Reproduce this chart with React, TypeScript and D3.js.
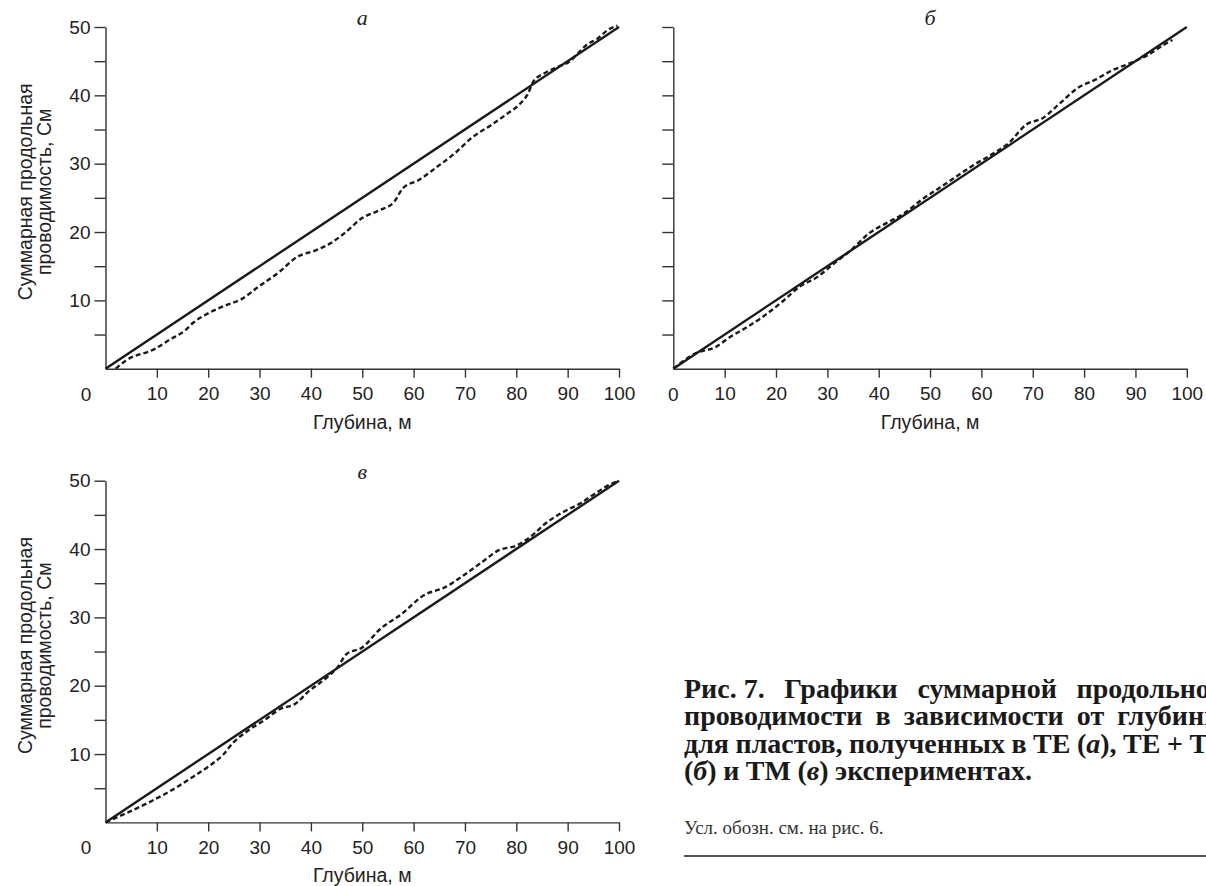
import { useEffect, useRef } from 'react';
import * as d3 from 'd3';

// axes
const DEPTH_DOMAIN: [number, number] = [0, 100];
const COND_DOMAIN: [number, number] = [0, 50];
const X_TICKS = [10, 20, 30, 40, 50, 60, 70, 80, 90, 100];
const Y_TICKS = [5, 10, 15, 20, 25, 30, 35, 40, 45, 50];
const Y_LABELS = [10, 20, 30, 40, 50];

// solid reference line (same in every panel)
const TREND_DEPTH = [0, 100];
const TREND_COND = [0, 50];

// dashed curves
const TE_DEPTH = [2, 4, 9.6, 12.4, 15.5, 17.2, 20, 24.2, 26.3, 29.8, 33.9, 37.4, 40.9, 43.7, 46.5, 49.9, 53.4, 56.2, 57.9, 61, 64.5, 68, 71.5, 75, 78.4, 80.5, 82.3, 83.3, 85.4, 88.2, 90.3, 91.7, 93.7, 95.8, 97.9, 99.7];
const TE_COND = [0, 1.2, 2.9, 4.2, 5.6, 6.8, 8.1, 9.5, 10.1, 12, 14.2, 16.4, 17.3, 18.3, 19.8, 22, 23.2, 24.4, 26.4, 27.6, 29.5, 31.5, 33.9, 35.6, 37.4, 38.6, 40.3, 42, 43.2, 44.2, 44.9, 45.9, 47.4, 48.3, 49.6, 50.2];

const TETM_DEPTH = [0, 4.2, 8.3, 11, 14.4, 17.8, 21.2, 24.6, 28, 31.3, 34.7, 38.1, 41.5, 44.9, 48.3, 51.7, 55.1, 58.5, 61.9, 65.3, 68.7, 72, 75.4, 78.8, 82.2, 85.6, 89, 92.4, 95.1, 97.2];
const TETM_COND = [0, 2.2, 3.2, 4.6, 6.1, 7.8, 9.8, 12, 13.4, 15.4, 17.4, 19.8, 21.3, 22.7, 24.7, 26.4, 28.1, 29.8, 31.3, 33, 35.7, 36.7, 38.9, 41.1, 42.3, 43.7, 44.7, 45.9, 47.2, 48.1];

const TM_DEPTH = [0, 3.3, 8.9, 13.1, 17.3, 20.1, 22.9, 24.9, 27.7, 31.2, 34, 36.8, 39.6, 43.1, 45.2, 46.9, 50, 53.5, 57.7, 61.9, 66.1, 70.2, 73.7, 76.5, 80, 82.8, 85.6, 89.1, 92.5, 95.3, 97.4, 99.9];
const TM_COND = [0, 1.1, 3.1, 4.8, 6.8, 8.2, 9.9, 11.7, 13.4, 15.1, 16.6, 17.3, 19.2, 21.2, 22.7, 24.6, 25.6, 28.3, 30.5, 33.2, 34.4, 36.4, 38.3, 39.8, 40.5, 41.8, 43.7, 45.4, 46.7, 48.1, 49.1, 50];

const PANEL_TITLES = ['а', 'б', 'в'];
const X_TITLE = 'Глубина, м';
const Y_TITLE = ['Суммарная продольная', 'проводимость, См'];

type Seg = { t: string; i?: boolean };
const CAPTION: Seg[][][] = [
  [[{ t: 'Рис. 7.' }], [{ t: 'Графики' }], [{ t: 'суммарной' }], [{ t: 'продольной' }]],
  [[{ t: 'проводимости' }], [{ t: 'в' }], [{ t: 'зависимости' }], [{ t: 'от' }], [{ t: 'глубины' }]],
  [[{ t: 'для' }], [{ t: 'пластов,' }], [{ t: 'полученных' }], [{ t: 'в' }], [{ t: 'TE' }], [{ t: '(' }, { t: 'а', i: true }, { t: '),' }], [{ t: 'TE' }], [{ t: '+' }], [{ t: 'TM' }]],
  [[{ t: '(' }, { t: 'б', i: true }, { t: ')' }], [{ t: 'и' }], [{ t: 'TM' }], [{ t: '(' }, { t: 'в', i: true }, { t: ')' }], [{ t: 'экспериментах.' }]],
];
const NOTE = 'Усл. обозн. см. на рис. 6.';

const SANS = "'Liberation Sans', Arial, sans-serif";
const SERIF = "'Liberation Serif', 'Times New Roman', serif";

export default function App() {
  const svgRef = useRef<SVGSVGElement>(null);

  useEffect(() => {
    const el = svgRef.current;
    if (!el) return;
    const svg = d3.select(el);
    svg.selectAll('*').remove();

    const W = 513.5;
    const H = 341.7;
    const panels = [
      { left: 105.5, top: 27, depth: TE_DEPTH, cond: TE_COND, yLabels: true, zeroX: -19.5, title: PANEL_TITLES[0] },
      { left: 673.3, top: 27, depth: TETM_DEPTH, cond: TETM_COND, yLabels: false, zeroX: 0, title: PANEL_TITLES[1] },
      { left: 105.5, top: 480.7, depth: TM_DEPTH, cond: TM_COND, yLabels: true, zeroX: -19.5, title: PANEL_TITLES[2] },
    ];

    const x = d3.scaleLinear().domain(DEPTH_DOMAIN).range([0, W]);
    const y = d3.scaleLinear().domain(COND_DOMAIN).range([H, 0]);

    panels.forEach((p) => {
      const g = svg.append('g').attr('transform', `translate(${p.left},${p.top})`);

      // y axis
      const ya = g.append('g').call(
        d3.axisLeft(y).tickValues(Y_TICKS).tickSize(11).tickSizeOuter(0).tickPadding(4)
          .tickFormat((d) => (p.yLabels && Y_LABELS.includes(d as number) ? String(d) : ''))
      );
      // x axis
      const xa = g.append('g').attr('transform', `translate(0,${H})`).call(
        d3.axisBottom(x).tickValues(X_TICKS).tickSize(9).tickSizeOuter(0).tickPadding(9)
      );
      [ya, xa].forEach((a) => {
        a.select('.domain').attr('stroke', '#333').attr('stroke-width', 1.4);
        a.selectAll('.tick line').attr('stroke', '#333').attr('stroke-width', 1.4);
        a.selectAll('.tick text').attr('fill', '#222').attr('font-size', '19px').attr('font-family', SANS);
      });

      g.append('text')
        .attr('x', p.zeroX).attr('y', H + 32)
        .attr('text-anchor', 'middle').attr('font-size', '19px').attr('font-family', SANS).attr('fill', '#222')
        .text('0');

      g.append('text')
        .attr('x', W / 2).attr('y', H + 60)
        .attr('text-anchor', 'middle').attr('font-size', '19.5px').attr('font-family', SANS).attr('fill', '#222')
        .text(X_TITLE);

      if (p.yLabels) {
        Y_TITLE.forEach((line, i) => {
          g.append('text')
            .attr('transform', `translate(${-74 + i * 19.5},${H / 2 - 6}) rotate(-90)`)
            .attr('text-anchor', 'middle').attr('font-size', '19.5px').attr('font-family', SANS).attr('fill', '#222')
            .text(line);
        });
      }

      g.append('text')
        .attr('x', W / 2).attr('y', -2)
        .attr('text-anchor', 'middle').attr('font-size', '22px').attr('font-style', 'italic')
        .attr('font-family', SERIF).attr('fill', '#222')
        .text(p.title);

      const trend = d3.line<number>()
        .x((d) => x(d))
        .y((_, i) => y(TREND_COND[i]));
      g.append('path')
        .datum(TREND_DEPTH)
        .attr('d', trend)
        .attr('fill', 'none').attr('stroke', '#1a1a1a').attr('stroke-width', 2.4);

      const curve = d3.line<number>()
        .x((d) => x(d))
        .y((_, i) => y(p.cond[i]))
        .curve(d3.curveMonotoneX);
      g.append('path')
        .datum(p.depth)
        .attr('d', curve)
        .attr('fill', 'none').attr('stroke', '#1a1a1a').attr('stroke-width', 2.4)
        .attr('stroke-dasharray', '5,3');
    });

    // caption, justified like the printed column (runs past the right edge, as in the scan)
    const capLeft = 684;
    const capRight = 1226;
    const capTop = 698;
    const lead = 27.3;
    const cap = svg.append('g');
    CAPTION.forEach((words, li) => {
      const nodes = words.map((segs) => {
        const t = cap.append('text')
          .attr('y', capTop + li * lead)
          .attr('font-family', SERIF).attr('font-weight', 'bold').attr('font-size', '28px').attr('fill', '#1a1a1a');
        segs.forEach((s) => t.append('tspan').attr('font-style', s.i ? 'italic' : 'normal').text(s.t));
        return t;
      });
      const widths = nodes.map((n) => (n.node() as SVGTextElement).getComputedTextLength());
      const total = d3.sum(widths);
      const space = 6.5;
      const last = li === CAPTION.length - 1;
      const gap = last || words.length < 2 ? space : Math.max(space, (capRight - capLeft - total) / (words.length - 1));
      let cx = capLeft;
      nodes.forEach((n, i) => {
        n.attr('x', cx);
        cx += widths[i] + gap;
      });
    });

    svg.append('text')
      .attr('x', capLeft).attr('y', 834)
      .attr('font-family', SERIF).attr('font-size', '19px').attr('fill', '#333')
      .text(NOTE);

    svg.append('line')
      .attr('x1', capLeft).attr('x2', 1206)
      .attr('y1', 856).attr('y2', 856)
      .attr('stroke', '#555').attr('stroke-width', 2);
  }, []);

  return (
    <svg
      ref={svgRef}
      width={1206}
      height={886}
      style={{ position: 'absolute', left: 0, top: 0, background: '#fff' }}
    />
  );
}
